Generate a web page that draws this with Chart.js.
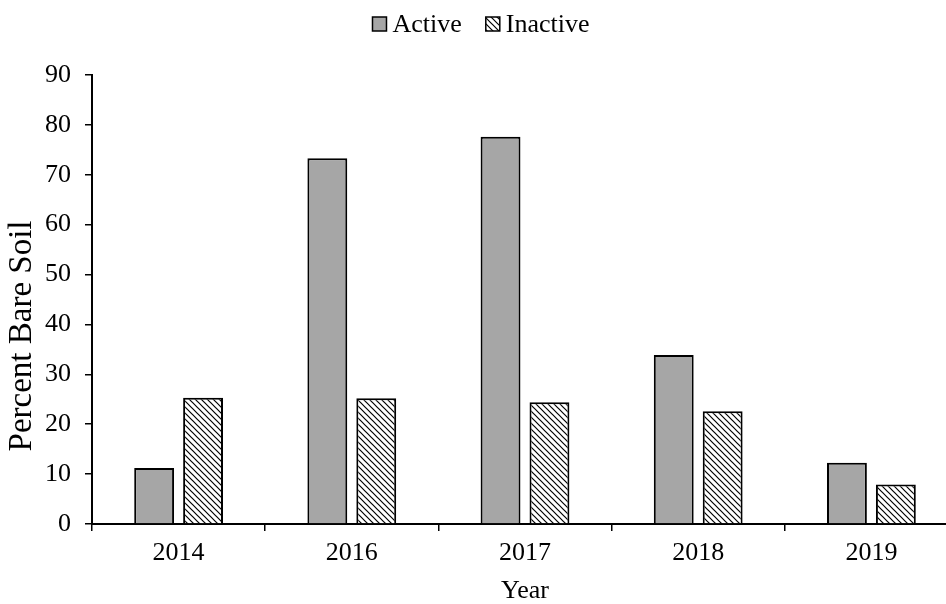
<!DOCTYPE html>
<html>
<head>
<meta charset="utf-8">
<script src="https://cdn.jsdelivr.net/npm/chart.js@4/dist/chart.umd.min.js"></script>
<style>
  html, body { margin: 0; padding: 0; background: #fff; overflow: hidden; }
  #wrap { width: 962px; height: 604px; }
</style>
</head>
<body>
<div id="wrap"><canvas id="barChart"></canvas></div>
<script>
const years = ['2014', '2016', '2017', '2018', '2019'];
const activeValues = [11.2, 73.3, 77.6, 33.9, 12.3];
const inactiveValues = [25.3, 25.2, 24.4, 22.6, 7.9];
const yTicks = [0, 10, 20, 30, 40, 50, 60, 70, 80, 90];

const serif = 'Liberation Serif, Times New Roman, serif';

// downward diagonal hatch for the inactive bars
function makeHatch() {
    const c = document.createElement('canvas');
    c.width = 6; c.height = 6;
    const g = c.getContext('2d');
    g.fillStyle = '#fff';
    g.fillRect(0, 0, 6, 6);
    g.strokeStyle = '#000';
    g.lineWidth = 1.2;
    g.beginPath();
    g.moveTo(-1, -1); g.lineTo(7, 7);
    g.moveTo(-4, 2); g.lineTo(4, 10);
    g.moveTo(2, -4); g.lineTo(10, 4);
    g.stroke();
    return g.createPattern(c, 'repeat');
}

// compact legend row: small framed swatch, short gap, label
const swatchLegend = {
    id: 'swatchLegend',
    afterDraw(chart) {
        const g = chart.ctx;
        const box = 14, gap = 6, itemGap = 24, cy = 24;
        g.save();
        g.font = '26px ' + serif;
        g.textBaseline = 'middle';
        g.fillStyle = '#000';
        const items = chart.data.datasets.map(ds => ({
            ds, w: g.measureText(ds.label).width
        }));
        let total = items.reduce((s, it) => s + box + gap + it.w, 0) + itemGap * (items.length - 1);
        let x = chart.width / 2 - total / 2;
        items.forEach(it => {
            g.fillStyle = it.ds.backgroundColor;
            g.fillRect(x, cy - box / 2, box, box);
            g.strokeStyle = '#000';
            g.lineWidth = 1.5;
            g.strokeRect(x, cy - box / 2, box, box);
            g.fillStyle = '#000';
            g.fillText(it.ds.label, x + box + gap, cy + 1);
            x += box + gap + it.w + itemGap;
        });
        g.restore();
    }
};

// rotated value-axis caption
const yCaption = {
    id: 'yCaption',
    afterDraw(chart) {
        const g = chart.ctx;
        g.save();
        g.translate(22, 336);
        g.rotate(-Math.PI / 2);
        g.font = '33px ' + serif;
        g.fillStyle = '#000';
        g.textAlign = 'center';
        g.textBaseline = 'middle';
        g.fillText('Percent Bare Soil', 0, 0);
        g.restore();
    }
};

Chart.defaults.font.family = serif;
Chart.defaults.font.size = 26;
Chart.defaults.color = '#000';

window.initCharts = function () {
    const ctx = document.getElementById('barChart');
    const hatch = makeHatch();
    new Chart(ctx, {
        type: 'bar',
        data: {
            labels: years,
            datasets: [{
                label: 'Active',
                data: activeValues,
                backgroundColor: '#a6a6a6',
                borderColor: '#000',
                borderWidth: 2,
                categoryPercentage: 0.565,
                barPercentage: 0.815
            }, {
                label: 'Inactive',
                data: inactiveValues,
                backgroundColor: hatch,
                borderColor: '#000',
                borderWidth: 2,
                categoryPercentage: 0.565,
                barPercentage: 0.815
            }]
        },
        plugins: [swatchLegend, yCaption],
        options: {
            responsive: true,
            maintainAspectRatio: false,
            animation: false,
            layout: { padding: { top: 75, right: 4, bottom: 0, left: 0 } },
            plugins: {
                legend: { display: false },
                tooltip: { enabled: false }
            },
            scales: {
                x: {
                    offset: true,
                    afterFit: s => { s.height = 80; },
                    grid: {
                        offset: true,
                        drawOnChartArea: false,
                        drawTicks: true,
                        tickLength: 7,
                        color: '#000',
                        lineWidth: 1.5
                    },
                    border: { color: '#000', width: 2 },
                    ticks: { font: { size: 26 }, padding: 7 },
                    title: {
                        display: true,
                        text: 'Year',
                        font: { size: 26, lineHeight: 1.0 },
                        padding: { top: 0, bottom: 0 }
                    }
                },
                y: {
                    min: 0,
                    max: 90,
                    afterFit: s => { s.width = 92; },
                    afterBuildTicks: axis => { axis.ticks = yTicks.map(v => ({ value: v })); },
                    grid: {
                        drawOnChartArea: false,
                        drawTicks: true,
                        tickLength: 7,
                        color: '#000',
                        lineWidth: 1.5
                    },
                    border: { color: '#000', width: 2 },
                    ticks: { font: { size: 26 }, padding: 14 },
                    title: { display: false }
                }
            }
        }
    });
};
window.initCharts();
</script>
</body>
</html>
